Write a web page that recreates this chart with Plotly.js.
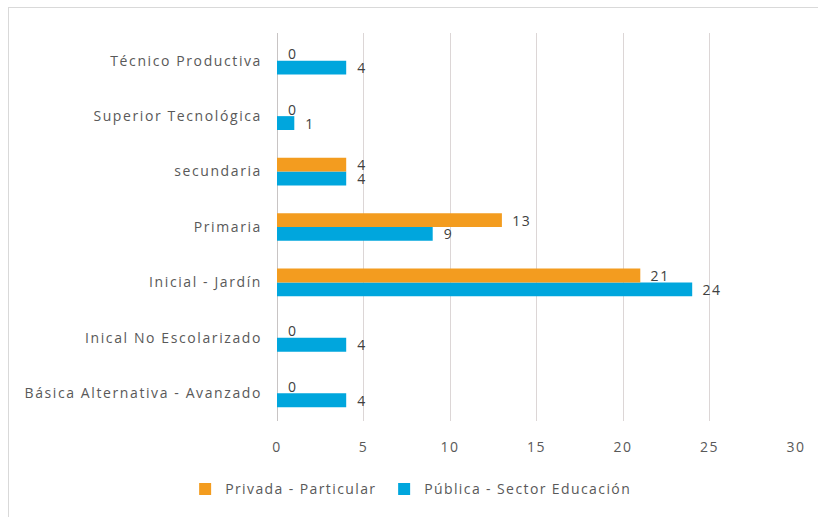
<!DOCTYPE html>
<html>
<head>
<meta charset="utf-8">
<script src="https://cdn.plot.ly/plotly-3.0.1.min.js"></script>
<style>
  html, body { margin: 0; padding: 0; background: #fff; }
  #wrap { position: relative; width: 818px; height: 517px; }
  #chart { width: 818px; height: 517px; }
  #chart svg .ytick text, #chart svg .xtick text, #chart svg .bartext { letter-spacing: 1.6px; }
  #chart svg .legendtext { letter-spacing: 1.4px; }
  #chart svg .legend .scrollbox { clip-path: none !important; }
  #frame { position: absolute; left: 8px; top: 7px; right: 0; bottom: 0;
           border-left: 1px solid #d9d9d9; border-top: 1px solid #d9d9d9; pointer-events: none; }
</style>
</head>
<body>
<div id="wrap">
  <div id="chart"></div>
  <div id="frame"></div>
</div>
<script>
// Categories listed from bottom to top
const categories = [
  "Básica Alternativa - Avanzado",
  "Inical No Escolarizado",
  "Inicial - Jardín",
  "Primaria",
  "secundaria",
  "Superior Tecnológica",
  "Técnico Productiva"
];
const privada = [0, 0, 21, 13, 4, 0, 0];
const publica = [4, 4, 24, 9, 4, 1, 4];
const xTicks = [0, 5, 10, 15, 20, 25, 30];

const font = "'Open Sans', 'Liberation Sans', sans-serif";

const traces = [
  {
    type: 'bar', orientation: 'h', name: 'Pública - Sector Educación',
    y: categories, x: publica,
    marker: { color: '#00a6dd' },
    texttemplate: '  %{x}', textposition: 'outside', constraintext: 'none',
    textfont: { family: font, size: 14, color: '#404040' },
    cliponaxis: false
  },
  {
    type: 'bar', orientation: 'h', name: 'Privada - Particular',
    y: categories, x: privada,
    marker: { color: '#f39c1f' },
    texttemplate: '  %{x}', textposition: 'outside', constraintext: 'none',
    textfont: { family: font, size: 14, color: '#404040' },
    cliponaxis: false
  }
];

const layout = {
  width: 818, height: 517,
  margin: { l: 277, r: 22, t: 33, b: 92 },
  paper_bgcolor: 'rgba(0,0,0,0)', plot_bgcolor: '#fff',
  barmode: 'group', bargap: 0.5, bargroupgap: 0,
  font: { family: font, size: 14, color: '#595959' },
  showlegend: true,
  legend: {
    orientation: 'h', x: -0.177, xanchor: 'left', y: -0.135, yanchor: 'top',
    traceorder: 'reversed', entrywidthmode: 'pixels', entrywidth: 154,
    itemwidth: 30, bgcolor: 'rgba(0,0,0,0)',
    font: { family: font, size: 14, color: '#595959' }
  },
  xaxis: {
    range: [0, 30], tickvals: xTicks, ticktext: xTicks.map(String),
    showgrid: true, gridcolor: '#dcd6d6', gridwidth: 1,
    zeroline: true, zerolinecolor: '#c8c4c4', showline: false,
    ticks: '', ticklabelstandoff: 16,
    tickfont: { family: font, size: 14, color: '#595959' },
    fixedrange: true
  },
  yaxis: {
    type: 'category', showgrid: false, zeroline: false, showline: false,
    ticks: '', ticklabelstandoff: 14,
    tickfont: { family: font, size: 14, color: '#595959' },
    fixedrange: true
  }
};

Plotly.newPlot('chart', traces, layout, { displayModeBar: false, staticPlot: true });
</script>
</body>
</html>
